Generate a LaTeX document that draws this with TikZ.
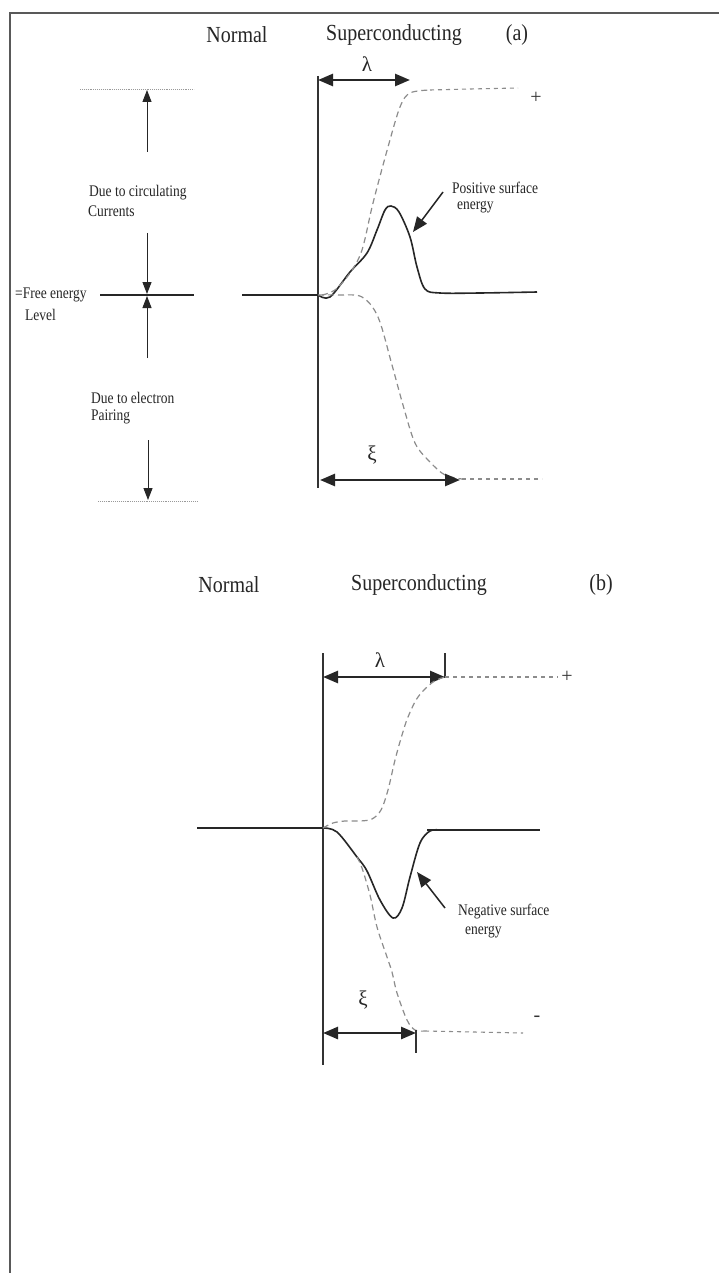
\documentclass[tikz,border=0pt]{standalone}
\usepackage{fontspec}
\setmainfont{Liberation Serif}
\usetikzlibrary{arrows.meta}

\begin{document}
\begin{tikzpicture}[x=1pt,y=-1pt,
  title/.style={font=\fontsize{20}{24}\selectfont, yscale=1.15, inner sep=0pt, text=black!85},
  lbl/.style={font=\fontsize{13.5}{16}\selectfont, yscale=1.2, inner sep=0pt, anchor=west, text=black!85},
  greek/.style={font=\fontsize{21}{24}\selectfont, inner sep=0pt, text=black!85},
  sign/.style={font=\fontsize{20}{22}\selectfont, inner sep=0pt, text=black!80},
  axis/.style={draw=black!80, line width=1.2pt},
  span/.style={draw=black!85, line width=2.6pt, {Triangle[length=15pt,width=12pt]}-{Triangle[length=15pt,width=12pt]}},
  tick/.style={draw=black!80, line width=1.2pt},
  level/.style={draw=black!85, line width=1.6pt},
  guide/.style={draw=black!40, densely dotted, line width=0.9pt},
  thinarrow/.style={draw=black!85, line width=1pt, -{Triangle[length=12pt,width=9pt]}},
  curve/.style={draw=black!85, line width=1.6pt},
  dcurve/.style={draw=black!45, dash pattern=on 6pt off 4pt, line width=1.2pt},
  dplateau/.style={draw=black!45, dash pattern=on 4pt off 4pt, line width=1.1pt},
  pointer/.style={draw=black!85, line width=1.5pt, -{Triangle[length=15pt,width=12pt]}},
]
\useasboundingbox (0,0) rectangle (719,1273);
\fill[white] (0,0) rectangle (719,1273);

% page frame
\draw[gray!70!black, line width=1.6pt] (10,1273) -- (10,13) -- (719,13);

% ---------------- panel (a): positive surface energy ----------------
\node[title] (na) at (237,35) {Normal};
\node[title] (sa) at (394,35) {Superconducting};
\node[title] (pa) at (517,35) {(a)};

\coordinate (aTop) at (318,76);
\coordinate (aBot) at (318,488);
\draw[axis] (aTop) -- (aBot);

\coordinate (laL) at (318,80);
\coordinate (laR) at (410,80);
\draw[span] (laL) -- (laR);
\node[greek] (lamA) at (367,64) {λ};

% energy scale on the left
\coordinate (gTopL) at (80,89);  \coordinate (gTopR) at (194,89);
\draw[guide] (gTopL) -- (gTopR);
\coordinate (upA1) at (147,152); \coordinate (upA2) at (147,90);
\draw[thinarrow] (upA1) -- (upA2);
\node[lbl] (circ1) at (89,193) {Due to circulating};
\node[lbl] (circ2) at (88,211) {Currents};
\coordinate (dnA1) at (147,233); \coordinate (dnA2) at (147,294);
\draw[thinarrow] (dnA1) -- (dnA2);
\coordinate (fL) at (100,295); \coordinate (fR) at (194,295);
\draw[level] (fL) -- (fR);
\coordinate (upB1) at (147,358); \coordinate (upB2) at (147,296);
\draw[thinarrow] (upB1) -- (upB2);
\node[lbl] (free1) at (15,295) {=Free energy};
\node[lbl] (free2) at (25,315) {Level};
\node[lbl] (pair1) at (91,398) {Due to electron};
\node[lbl] (pair2) at (91,417) {Pairing};
\coordinate (dnB1) at (148,440); \coordinate (dnB2) at (148,500);
\draw[thinarrow] (dnB1) -- (dnB2);
\coordinate (gBotL) at (98,501); \coordinate (gBotR) at (197,501);
\draw[guide] (gBotL) -- (gBotR);

% free energy across the boundary
\coordinate (aLev) at (242,295);
\draw[level] (aLev) -- (318,295);
\draw[curve] plot[smooth, tension=0.55] coordinates {(318,295) (330,297) (350,272) (367,253) (377,230) (385,210) (391,206) (399,212) (410,237) (417,267) (425,289) (440,293) (480,293) (537,292)};

% field (+) and pairing (-) contributions
\draw[dcurve] plot[smooth, tension=0.55] coordinates {(322,295) (335,290) (350,273) (362,250) (373,203) (388,147) (400,107) (410,93) (430,90)};
\draw[dplateau] (430,90) -- (470,89) -- (518,88);
\node[sign] (plusA) at (536,98) {+};
\draw[dcurve] plot[smooth, tension=0.55] coordinates {(318,295) (340,295) (362,297) (378,317) (392,365) (403,405) (415,443) (430,462) (445,475) (462,479)};
\draw[dplateau] (462,479) -- (542,479);

\node[lbl] (posA1) at (452,188) {Positive surface};
\node[lbl] (posA2) at (457,207) {energy};
\coordinate (ptA1) at (443,192); \coordinate (ptA2) at (413,232);
\draw[pointer] (ptA1) -- (ptA2);

\coordinate (xaL) at (320,480);
\coordinate (xaR) at (460,480);
\draw[span] (xaL) -- (xaR);
\node[greek] (xiA) at (372,455) {ξ};

% ---------------- panel (b): negative surface energy ----------------
\node[title] (nb) at (229,585) {Normal};
\node[title] (sb) at (419,585) {Superconducting};
\node[title] (pb) at (601,585) {(b)};

\coordinate (bTop) at (323,653);
\coordinate (bBot) at (323,1065);
\draw[axis] (bTop) -- (bBot);

\coordinate (lbL) at (323,677);
\coordinate (lbR) at (445,677);
\draw[span] (lbL) -- (lbR);
\draw[tick] (445,653) -- (445,678);
\node[greek] (lamB) at (380,660) {λ};
\draw[dplateau] (lbR) -- (558,677);
\node[sign] (plusB) at (567,677) {+};

\coordinate (bLev) at (197,828);
\draw[level] (bLev) -- (323,828);
\draw[level] (427,830) -- (540,830);
\draw[curve] plot[smooth, tension=0.55] coordinates {(323,828) (337,832) (357,857) (367,871) (380,900) (393,918) (402,908) (410,877) (420,843) (430,831) (440,830)};

\draw[dcurve] plot[smooth, tension=0.55] coordinates {(323,828) (333,823) (345,821) (360,821) (372,819) (381,810) (388,790) (395,760) (402,735) (408,717) (418,697) (433,682) (445,677)};
\draw[dcurve] plot[smooth, tension=0.55] coordinates {(357,857) (362,868) (370,895) (377,927) (387,957) (392,972) (397,993) (407,1020) (415,1030) (425,1031)};
\draw[dplateau] (425,1031) -- (523,1033);
\node[sign] (minusB) at (537,1019) {-};

\node[lbl] (negB1) at (458,912) {Negative surface};
\node[lbl] (negB2) at (465,932) {energy};
\coordinate (ptB1) at (445,908); \coordinate (ptB2) at (417,872);
\draw[pointer] (ptB1) -- (ptB2);

\coordinate (xbL) at (323,1033);
\coordinate (xbR) at (416,1033);
\draw[span] (xbL) -- (xbR);
\draw[tick] (416,1030) -- (416,1053);
\node[greek] (xiB) at (363,1000) {ξ};
\end{tikzpicture}
\end{document}
